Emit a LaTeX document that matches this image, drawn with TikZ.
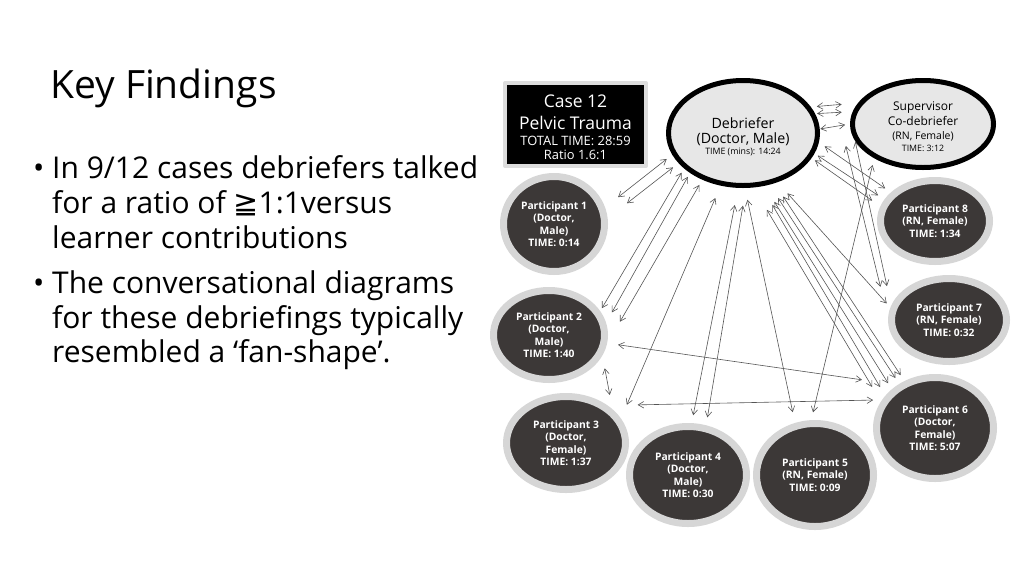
\documentclass[tikz,border=0pt]{standalone}
\usepackage{fontspec}
\setmainfont{Open Sans}
\newfontfamily\symfont{DejaVu Sans}
\usetikzlibrary{shapes.geometric,arrows.meta}
\definecolor{learnerfill}{RGB}{60,56,55}
\definecolor{learnerring}{RGB}{214,214,214}
\definecolor{speakerfill}{RGB}{231,231,231}
\definecolor{caseframe}{RGB}{221,221,221}
\definecolor{talkline}{RGB}{85,85,85}
\tikzset{>={Straight Barb[length=5.5pt,width=6.5pt]}}
\tikzset{
	finding/.style={anchor=base west,inner sep=0pt,font=\fontsize{30}{35}\selectfont},
	casebox/.style={rectangle,draw=caseframe,line width=4pt,fill=black,inner sep=0pt,minimum width=141pt,minimum height=83pt},
	speaker/.style={ellipse,draw=black,line width=5pt,fill=speakerfill,inner sep=0pt},
	learner/.style={ellipse,draw=learnerring,line width=7pt,fill=learnerfill,text=white,inner sep=0pt,align=center,font=\fontsize{10.3}{12.3}\selectfont\bfseries},
	talk/.style 2 args={<->,draw=talkline,line width=0.6pt,shorten <=#1,shorten >=#2}
}

\begin{document}
\begin{tikzpicture}[x=1pt,y=-1pt,line cap=round,line join=round]
	\useasboundingbox (0,0) rectangle (1024,576);
	\fill[white] (0,0) rectangle (1024,576);
	% findings text
	\node[anchor=base west,inner sep=0pt,font=\fontsize{39}{40}\selectfont] (title) at (50,98) {Key Findings};
	\node[finding] (dot1) at (33,178) {•};
	\node[finding] (f1) at (52,178) {In 9/12 cases debriefers talked};
	\node[finding] (f2) at (52,213) {for a ratio of {\symfont ≧}1:1versus};
	\node[finding] (f3) at (52,248) {learner contributions};
	\node[finding] (dot2) at (33,293) {•};
	\node[finding] (f4) at (52,293) {The conversational diagrams};
	\node[finding] (f5) at (52,328) {for these debriefings typically};
	\node[finding] (f6) at (52,362) {resembled a ‘fan-shape’.};
	% diagram
	\node[casebox] (case) at (575.5,124.5) {};
	\node[text=white,align=center,font=\fontsize{17.5}{21}\selectfont] (casetext) at (575.5,127) {Case 12\\[0.7pt] Pelvic Trauma\\[-5pt] \fontsize{12.9}{15}\selectfont TOTAL TIME: 28:59\\[-7pt] \fontsize{12.9}{15}\selectfont Ratio 1.6:1};
	\node[speaker,minimum width=149pt,minimum height=105pt] (deb) at (743,133) {};
	\node[align=center,font=\fontsize{14.2}{15}\selectfont] (debtext) at (743,137) {Debriefer\\[0.5pt] (Doctor, Male)\\[-4pt] \fontsize{8.8}{10}\selectfont TIME (mins): 14:24};
	\node[speaker,minimum width=141pt,minimum height=87pt] (sup) at (923,124) {};
	\node[align=center,font=\fontsize{12}{15}\selectfont] (suptext) at (923,126.5) {Supervisor\\ Co-debriefer\\[-1pt] \fontsize{10.5}{12}\selectfont (RN, Female)\\[-3pt] \fontsize{8.8}{10}\selectfont TIME: 3:12};
	\node[learner,minimum width=101pt,minimum height=95pt] (p1) at (554,224) {Participant 1\\ (Doctor,\\ Male)\\ TIME: 0:14};
	\node[learner,minimum width=111pt,minimum height=89pt] (p2) at (549,335) {Participant 2\\ (Doctor,\\ Male)\\ TIME: 1:40};
	\node[learner,minimum width=119pt,minimum height=93pt] (p3) at (566,443) {Participant 3\\ (Doctor,\\ Female)\\ TIME: 1:37};
	\node[learner,minimum width=117pt,minimum height=97pt] (p4) at (688,475) {Participant 4\\ (Doctor,\\ Male)\\ TIME: 0:30};
	\node[learner,minimum width=117pt,minimum height=103pt] (p5) at (815,475) {Participant 5\\ (RN, Female)\\ TIME: 0:09};
	\node[learner,minimum width=117pt,minimum height=101pt] (p6) at (935,428) {Participant 6\\ (Doctor,\\ Female)\\ TIME: 5:07};
	\node[learner,minimum width=115pt,minimum height=83pt] (p7) at (949,320) {Participant 7\\ (RN, Female)\\ TIME: 0:32};
	\node[learner,minimum width=109pt,minimum height=81pt] (p8) at (935,221) {Participant 8\\ (RN, Female)\\ TIME: 1:34};
	% who talked to whom
	\draw[talk={7pt}{16.5pt}] (deb.197) -- (p1.18);
	\draw[talk={7pt}{24.5pt}] (deb.205) -- (p1.6);
	\draw[talk={5pt}{3.5pt}] (deb.211) -- (p2.25);
	\draw[talk={4.5pt}{12pt}] (deb.217) -- (p2.12);
	\draw[talk={6pt}{26pt}] (deb.229) -- (p2.351);
	\draw[talk={13.5pt}{15pt}] (deb.247) -- (p3.24);
	\draw[talk={17.5pt}{8pt}] (deb.265) -- (p4.86);
	\draw[talk={18pt}{8pt}] (deb.273) -- (p4.70);
	\draw[talk={12pt}{11pt}] (deb.272) -- (p5.111);
	\draw[talk={26pt}{17pt}] (deb.281) -- (p6.154);
	\draw[talk={21.5pt}{10pt}] (deb.289) -- (p6.147);
	\draw[talk={19pt}{7pt}] (deb.292) -- (p6.138);
	\draw[talk={16pt}{7pt}] (deb.297) -- (p6.129);
	\draw[talk={16pt}{7pt}] (deb.302) -- (p6.123);
	\draw[talk={15pt}{5.5pt}] (deb.305) -- (p7.168);
	\draw[talk={7pt}{7pt}] (deb.353) -- (p8.147);
	\draw[talk={4pt}{7.5pt}] (deb.344) -- (p8.157);
	\draw[talk={4pt}{10pt}] (deb.340) -- (p8.165);
	\draw[talk={6pt}{16.5pt}] (deb.21) -- (sup.162);
	\draw[talk={2pt}{11pt}] (deb.15) -- (sup.170);
	\draw[talk={0.5pt}{5pt}] (deb.3) -- (sup.180);
	\draw[talk={2pt}{32pt}] ([xshift=-12pt]sup.197) -- (p7.178);
	\draw[talk={1pt}{20pt}] (sup.194) -- (p7.166);
	\draw[talk={7pt}{8pt}] (sup.215) -- (p5.94);
	\draw[talk={11pt}{36pt}] (p2.352) -- (p6.131);
	\draw[talk={30pt}{9pt}] (p3.42) -- (p6.152);
	\draw[talk={13pt}{14.5pt}] (p2.339) -- (p3.36);
\end{tikzpicture}
\end{document}
